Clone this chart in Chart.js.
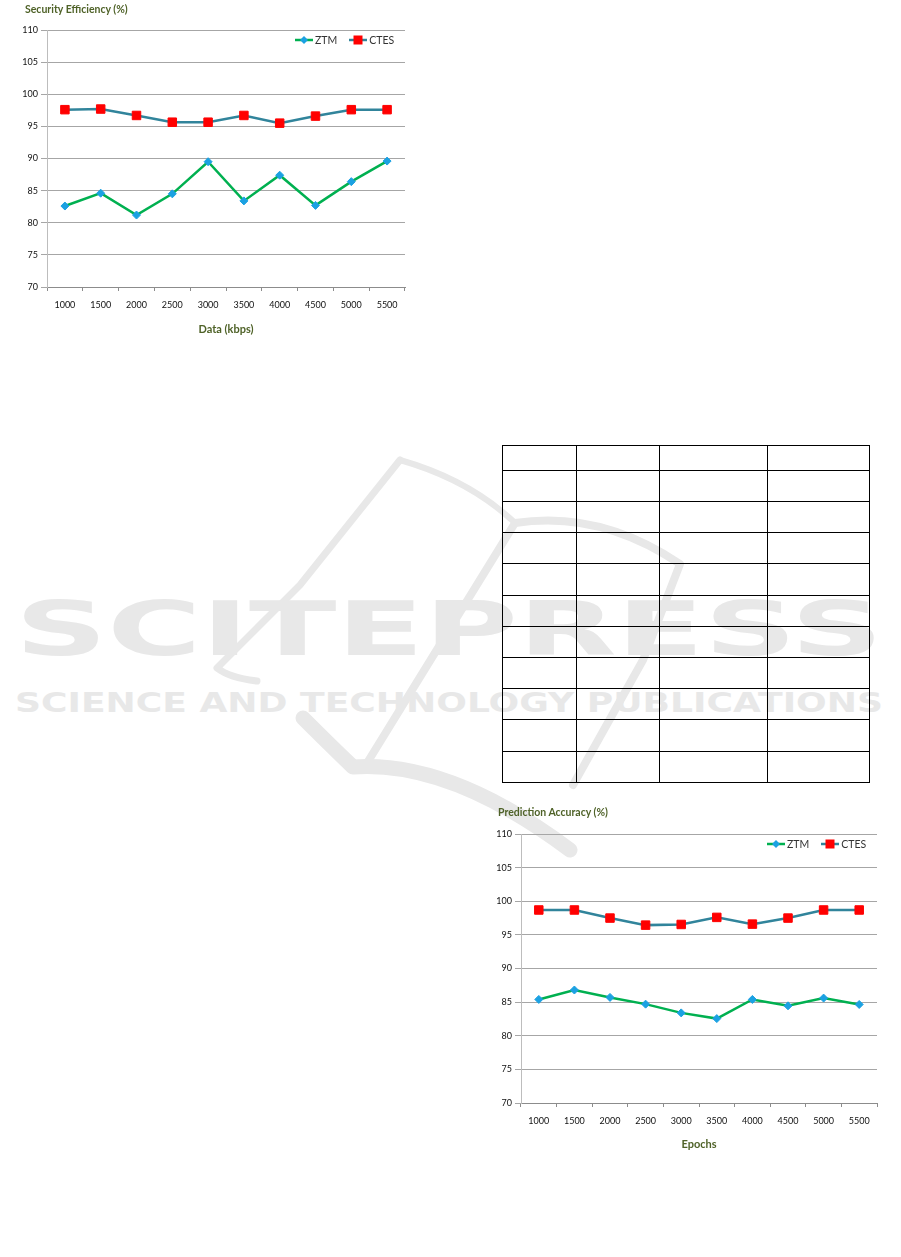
<!DOCTYPE html>
<html>
<head>
<meta charset="utf-8">
<script src="https://cdn.jsdelivr.net/npm/chart.js@4.4.1/dist/chart.umd.min.js"></script>
<style>
  body { margin: 0; background: #fff; }
  #page { position: relative; width: 901px; height: 1257px; overflow: hidden; font-family: Lato, sans-serif; }
  #wm { position: absolute; left: 0; top: 0; z-index: 0; }
  canvas { position: absolute; z-index: 2; }
  .ttl { position: absolute; z-index: 3; font: bold 10.5px Lato, sans-serif; color: #4f6228; line-height: 14px; white-space: nowrap; }
  .legend { position: absolute; z-index: 3; font: 10.5px Lato, sans-serif; color: #333; display: flex; align-items: center; height: 14px; }
  .legend span { margin: 0 12px 0 2px; }
  table { position: absolute; z-index: 2; left: 502px; top: 445px; border-collapse: collapse; }
  td { border: 1px solid #000; padding: 0; }
</style>
</head>
<body>
<div id="page">
  <svg id="wm" width="901" height="1257">
    <g fill="none" stroke="#e8e8e8" stroke-linecap="round" stroke-linejoin="round">
      <path d="M400 460 L300 585 L217 668 Q230 678 257 681" stroke-width="7"/>
      <path d="M400 460 Q470 480 515 523" stroke-width="6"/>
      <path d="M515 523 L367 763" stroke-width="8"/>
      <path d="M515 523 Q600 510 680 564 L643 660 L573 785" stroke-width="8"/>
      <path d="M303 718 Q330 745 353 767 Q450 760 570 850" stroke-width="15"/>
    </g>
    <g fill="#e8e8e8" font-family="DejaVu Sans" font-weight="bold">
      <text x="15" y="655" font-size="75" textLength="868" lengthAdjust="spacingAndGlyphs">SCITEPRESS</text>
      <text x="15" y="712" font-size="26" textLength="868" lengthAdjust="spacingAndGlyphs">SCIENCE AND TECHNOLOGY PUBLICATIONS</text>
    </g>
  </svg>

  <div class="ttl" style="left:25px; top:2px;">Security Efficiency (%)</div>
  <div class="legend" id="leg1" style="left:295px; top:33px;"></div>
  <canvas id="chart1" width="420" height="345" style="left:0; top:0;"></canvas>

  <table id="tbl"></table>

  <div class="ttl" style="left:498px; top:805px;">Prediction Accuracy (%)</div>
  <div class="legend" id="leg2" style="left:767px; top:837px;"></div>
  <canvas id="chart2" width="427" height="360" style="left:474px; top:800px;"></canvas>
</div>

<script>
// x categories (same for both figures)
const dataRates = ['1000', '1500', '2000', '2500', '3000', '3500', '4000', '4500', '5000', '5500'];
const epochs = ['1000', '1500', '2000', '2500', '3000', '3500', '4000', '4500', '5000', '5500'];

// Security Efficiency (%)
const secZTM = [82.6, 84.6, 81.2, 84.5, 89.5, 83.4, 87.4, 82.7, 86.4, 89.6];
const secCTES = [97.6, 97.7, 96.7, 95.65, 95.65, 96.7, 95.5, 96.6, 97.6, 97.6];

// Prediction Accuracy (%)
const accZTM = [85.4, 86.8, 85.7, 84.7, 83.4, 82.55, 85.4, 84.45, 85.6, 84.65];
const accCTES = [98.7, 98.7, 97.5, 96.45, 96.55, 97.6, 96.6, 97.5, 98.7, 98.7];

const yTicks = [70, 75, 80, 85, 90, 95, 100, 105, 110];

const tickFont = { family: 'Lato', size: 9 };

function series(ztm, ctes) {
  return [
    { label: 'ZTM', data: ztm, borderColor: '#00b050', borderWidth: 2.5,
      pointStyle: 'rectRot', pointRadius: 4, pointBackgroundColor: '#1ba1e2', pointBorderColor: '#1ba1e2', pointBorderWidth: 1 },
    { label: 'CTES', data: ctes, borderColor: '#31849b', borderWidth: 2.5,
      pointStyle: 'rect', pointRadius: 6, pointBackgroundColor: '#ff0000', pointBorderColor: '#ff0000', pointBorderWidth: 1 }
  ];
}

function makeChart(id, labels, datasets, xTitle, pad, xHeight) {
  return new Chart(document.getElementById(id), {
    type: 'line',
    data: { labels: labels, datasets: datasets },
    options: {
      responsive: false,
      animation: false,
      layout: { padding: pad },
      plugins: { legend: { display: false }, tooltip: { enabled: false } },
      elements: { line: { tension: 0 } },
      scales: {
        x: {
          offset: true,
          grid: { offset: true, drawOnChartArea: false, tickLength: 4, color: '#8c8c8c' },
          border: { color: '#8c8c8c' },
          ticks: { padding: 9, color: '#111', font: tickFont, maxRotation: 0, autoSkip: false },
          title: { display: true, text: xTitle, color: '#4f6228',
                   font: { family: 'Lato', size: 11, weight: 'bold' }, padding: { top: 0, bottom: 9 } },
          afterFit: s => { s.height = xHeight; }
        },
        y: {
          min: 70, max: 110,
          afterBuildTicks: s => { s.ticks = yTicks.map(v => ({ value: v })); },
          grid: { color: '#a6a6a6', tickLength: 6 },
          border: { color: '#bdbdbd' },
          ticks: { padding: 3, color: '#111', font: tickFont },
          afterFit: s => { s.width = 47; }
        }
      }
    }
  });
}

function makeLegend(el, datasets) {
  datasets.forEach(d => {
    const svg = document.createElementNS('http://www.w3.org/2000/svg', 'svg');
    svg.setAttribute('width', '18');
    svg.setAttribute('height', '10');
    let mark = d.pointStyle === 'rect'
      ? '<rect x="4.5" y="0.5" width="9" height="9" fill="' + d.pointBackgroundColor + '"/>'
      : '<path d="M9 1 L13 5 L9 9 L5 5 Z" fill="' + d.pointBackgroundColor + '"/>';
    svg.innerHTML = '<line x1="0" y1="5" x2="18" y2="5" stroke="' + d.borderColor + '" stroke-width="2.5"/>' + mark;
    el.appendChild(svg);
    const t = document.createElement('span');
    t.textContent = d.label;
    el.appendChild(t);
  });
}

const ds1 = series(secZTM, secCTES);
const ds2 = series(accZTM, accCTES);
makeChart('chart1', dataRates, ds1, 'Data (kbps)', { top: 30, right: 15, left: 0, bottom: 0 }, 58);
makeChart('chart2', epochs, ds2, 'Epochs', { top: 34, right: 24, left: 0, bottom: 0 }, 57);
makeLegend(document.getElementById('leg1'), ds1);
makeLegend(document.getElementById('leg2'), ds2);

// empty grid table
const colW = [74, 83, 108, 102];
const rowH = [25, 31, 31, 31, 32, 31, 31, 31, 31, 32, 31];
const tbl = document.getElementById('tbl');
rowH.forEach(h => {
  const tr = document.createElement('tr');
  colW.forEach(w => {
    const td = document.createElement('td');
    td.style.width = (w - 1) + 'px';
    td.style.height = (h - 1) + 'px';
    tr.appendChild(td);
  });
  tbl.appendChild(tr);
});
</script>
</body>
</html>
